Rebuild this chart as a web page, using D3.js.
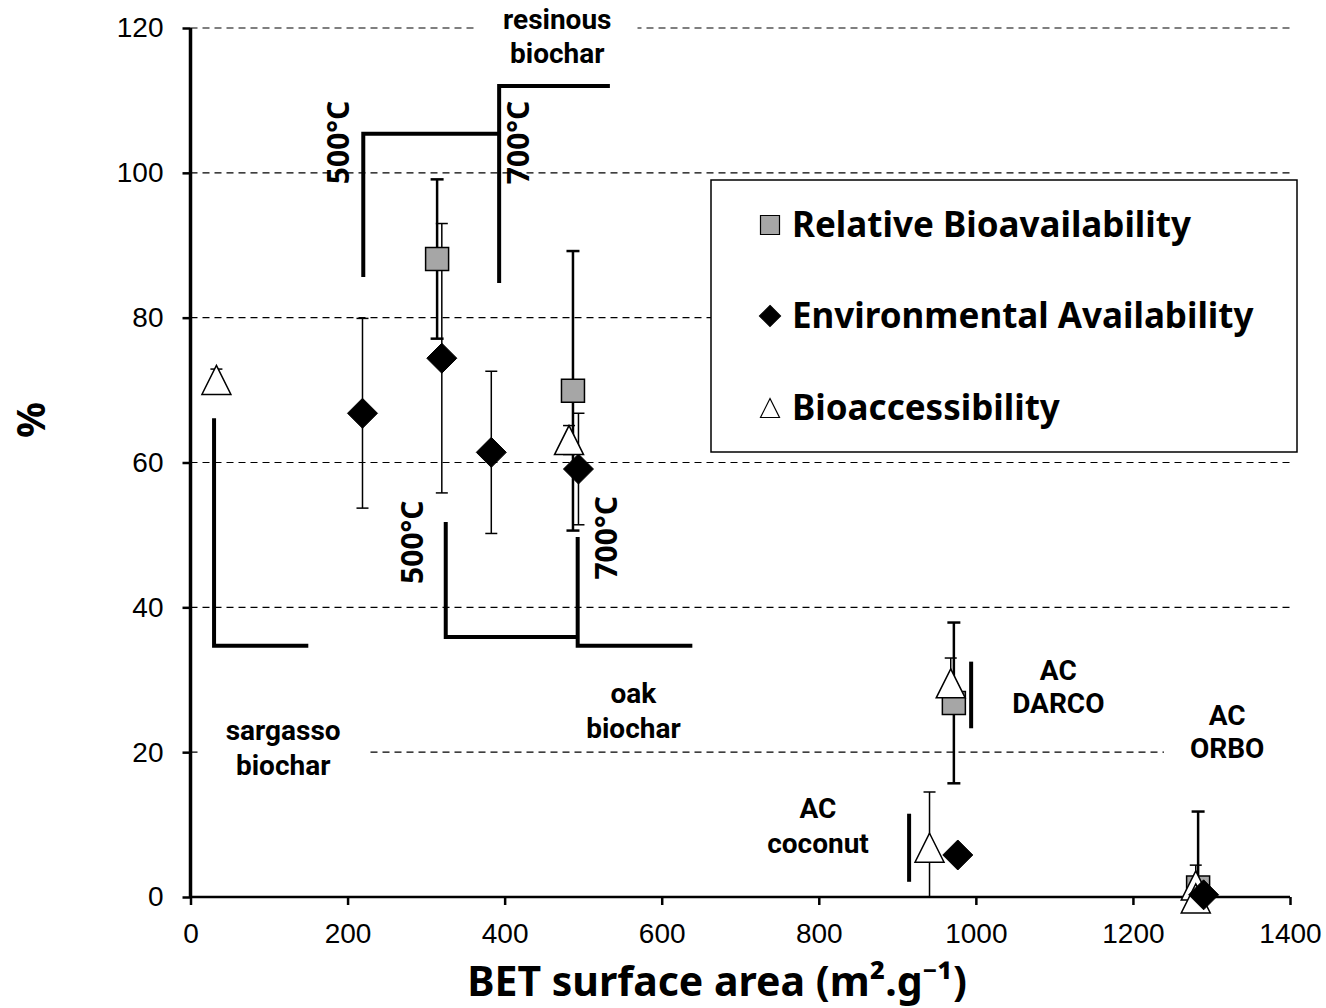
<!DOCTYPE html>
<html><head><meta charset="utf-8">
<script src="https://cdn.jsdelivr.net/npm/d3@7/dist/d3.min.js"></script>
<style>body{margin:0;background:#fff}svg{display:block}</style>
</head><body>
<svg id="c" width="1326" height="1008"></svg>
<script>
// ---- data ----
const seriesNames = ["Relative Bioavailability", "Environmental Availability", "Bioaccessibility"];
const xTicks = [0, 200, 400, 600, 800, 1000, 1200, 1400];
const yTicks = [0, 20, 40, 60, 80, 100, 120];

const rbX = [314, 487, 972, 1283];
const rbY = [88.1, 69.9, 26.8, 1.3];
const rbErr = [11.0, 19.3, 11.1, 10.5];

const eaX = [219, 320, 383, 494, 977, 1290];
const eaY = [66.8, 74.4, 61.4, 59.1, 5.8, 0.3];
const eaErr = [13.1, 18.6, 11.2, 7.7, 0, 0];

const baX = [33, 482, 968, 941, 1280, 1280];
const baY = [71.4, 63.1, 29.5, 6.8, 1.6, -0.2];
const baErr = [1.5, 2.0, 3.5, 7.7, 2.8, 0];

// annotation brackets (data units)
const brackets = [
  [[30, 66.1], [30, 34.7], [150, 34.7]],
  [[220, 85.6], [220, 105.4], [393, 105.4]],
  [[393, 84.8], [393, 112], [534, 112]],
  [[325, 51.8], [325, 35.9], [493, 35.9]],
  [[493, 49.7], [493, 34.7], [639, 34.7]],
  [[994, 32.5], [994, 23.3]],
  [[915, 11.5], [915, 2.1]]
];
// group labels: [lines], centre x, baselines (data units)
const groupLabels = [
  {lines: ["resinous", "biochar"], x: 467, y: [119.9, 115.1]},
  {lines: ["oak", "biochar"], x: 564, y: [26.8, 22.0]},
  {lines: ["sargasso", "biochar"], x: 118, y: [21.7, 16.8]},
  {lines: ["AC", "DARCO"], x: 1105, y: [30.0, 25.4]},
  {lines: ["AC", "ORBO"], x: 1320, y: [23.7, 19.2]},
  {lines: ["AC", "coconut"], x: 799, y: [10.9, 6.1]}
];
const tempLabels = [
  {t: "500°C", x: 187, y: 104.2},
  {t: "700°C", x: 417, y: 104.2},
  {t: "500°C", x: 282, y: 49.0},
  {t: "700°C", x: 528, y: 49.6}
];

// ---- chart ----
const svg = d3.select("#c");
const x = d3.scaleLinear().domain([0, 1400]).range([190.5, 1290]);
const y = d3.scaleLinear().domain([0, 120]).range([897, 28]);
const LF = "'Noto Sans', 'Open Sans', sans-serif";
const GF = "Roboto, 'Noto Sans', sans-serif";
const AF = "'Liberation Sans', Arial, sans-serif";

// gridlines
svg.append("g").selectAll("line").data(yTicks.filter(d => d > 0)).join("line")
  .attr("x1", x(0)).attr("x2", x(1400)).attr("y1", d => y(d)).attr("y2", d => y(d))
  .attr("stroke", "#000").attr("stroke-width", 1.2).attr("stroke-dasharray", "7,5");

// group label boxes + text
const gl = svg.append("g");
groupLabels.forEach(g => {
  const grp = gl.append("g");
  const box = grp.append("rect").attr("fill", "#fff");
  const txt = grp.append("g");
  g.lines.forEach((l, i) => {
    txt.append("text").attr("x", x(g.x)).attr("y", y(g.y[i]))
      .attr("text-anchor", "middle").attr("font-family", GF).attr("font-weight", "bold")
      .attr("font-size", 28).text(l);
  });
  const bb = txt.node().getBBox();
  box.attr("x", bb.x - 26).attr("y", bb.y - 4).attr("width", bb.width + 52).attr("height", bb.height + 8);
});

// brackets
const line = d3.line().x(d => x(d[0])).y(d => y(d[1]));
svg.append("g").selectAll("path").data(brackets).join("path")
  .attr("d", line).attr("fill", "none").attr("stroke", "#000").attr("stroke-width", 4)
  .attr("stroke-linejoin", "miter");

// temperature labels
svg.append("g").selectAll("text").data(tempLabels).join("text")
  .attr("transform", d => `translate(${x(d.x)},${y(d.y)}) rotate(-90)`)
  .attr("text-anchor", "middle").attr("dominant-baseline", "central")
  .attr("font-family", LF).attr("font-weight", "bold").attr("font-size", 30)
  .text(d => d.t);

// legend
const lg = svg.append("g");
lg.append("rect").attr("x", 711).attr("y", 180).attr("width", 586).attr("height", 272)
  .attr("fill", "#fff").attr("stroke", "#000").attr("stroke-width", 1.5);

// axes
const xAxis = svg.append("g").attr("transform", `translate(0,${y(0)})`)
  .call(d3.axisBottom(x).tickValues(xTicks).tickSize(8).tickPadding(18).tickFormat(d3.format("d")));
xAxis.select(".domain").attr("stroke-width", 2.5).attr("d", `M${x(0)},0H${x(1400)}`);
xAxis.selectAll(".tick line").attr("stroke-width", 2.5);
xAxis.selectAll("text").attr("font-family", AF).attr("font-size", 28).attr("fill", "#000");

const yAxis = svg.append("g").attr("transform", `translate(${x(0)},0)`)
  .call(d3.axisLeft(y).tickValues(yTicks).tickSize(8).tickPadding(19));
yAxis.select(".domain").attr("stroke-width", 3.5).attr("d", `M0,${y(120)}V${y(0)}`);
yAxis.selectAll(".tick line").attr("stroke-width", 2.5);
yAxis.selectAll("text").attr("font-family", AF).attr("font-size", 28).attr("fill", "#000");

// error bars (clipped at the x axis)
function errBars(xs, ys, es, w, cap) {
  const g = svg.append("g");
  xs.forEach((xv, i) => {
    if (!es[i]) return;
    const px = x(xv), t = y(ys[i] + es[i]);
    const lo = ys[i] - es[i];
    const b = y(Math.max(lo, 0));
    g.append("line").attr("x1", px).attr("x2", px).attr("y1", t).attr("y2", b)
      .attr("stroke", "#000").attr("stroke-width", w);
    const caps = lo >= 0 ? [t, b] : [t];
    caps.forEach(v => g.append("line").attr("x1", px - cap).attr("x2", px + cap)
      .attr("y1", v).attr("y2", v).attr("stroke", "#000").attr("stroke-width", w));
  });
}
errBars(rbX, rbY, rbErr, 2.5, 6.5);
errBars(eaX, eaY, eaErr, 1.5, 6);
errBars(baX, baY, baErr, 1.5, 6);

// markers
const sq = (s) => `M${-s/2},${-s/2}h${s}v${s}h${-s}Z`;
const dia = (s) => `M0,${-s/2}L${s/2},0L0,${s/2}L${-s/2},0Z`;
const tri = (s) => `M0,${-s/2}L${s/2},${s/2}L${-s/2},${s/2}Z`;

svg.append("g").selectAll("path").data(rbX.map((v, i) => [v, rbY[i]])).join("path")
  .attr("transform", d => `translate(${x(d[0])},${y(d[1])})`).attr("d", sq(23))
  .attr("fill", "#a6a6a6").attr("stroke", "#000").attr("stroke-width", 1.5);
svg.append("g").selectAll("path").data(baX.map((v, i) => [v, baY[i]])).join("path")
  .attr("transform", d => `translate(${x(d[0])},${y(d[1])})`).attr("d", tri(29))
  .attr("fill", "#fff").attr("stroke", "#000").attr("stroke-width", 1.5);
svg.append("g").selectAll("path").data(eaX.map((v, i) => [v, eaY[i]])).join("path")
  .attr("transform", d => `translate(${x(d[0])},${y(d[1])})`).attr("d", dia(30))
  .attr("fill", "#000").attr("stroke", "#000").attr("stroke-width", 1);

// legend entries
const legRows = [225, 316, 408];
const legShapes = [
  {d: sq(19), fill: "#a6a6a6"},
  {d: dia(21), fill: "#000"},
  {d: tri(19), fill: "#fff"}
];
seriesNames.forEach((n, i) => {
  lg.append("path").attr("transform", `translate(770,${legRows[i]})`).attr("d", legShapes[i].d)
    .attr("fill", legShapes[i].fill).attr("stroke", "#000").attr("stroke-width", 1.2);
  lg.append("text").attr("x", 792).attr("y", legRows[i] + 12)
    .attr("font-family", LF).attr("font-weight", "bold").attr("font-size", 35)
    .attr("fill", "#000").text(n);
});

// axis titles
svg.append("text").attr("x", 717).attr("y", 996).attr("text-anchor", "middle")
  .attr("font-family", LF).attr("font-weight", "bold").attr("font-size", 41)
  .text("BET surface area (m².g⁻¹)");
svg.append("text").attr("transform", "translate(45,420) rotate(-90)").attr("text-anchor", "middle")
  .attr("font-family", LF).attr("font-weight", "bold").attr("font-size", 40).text("%");
</script>
</body></html>
